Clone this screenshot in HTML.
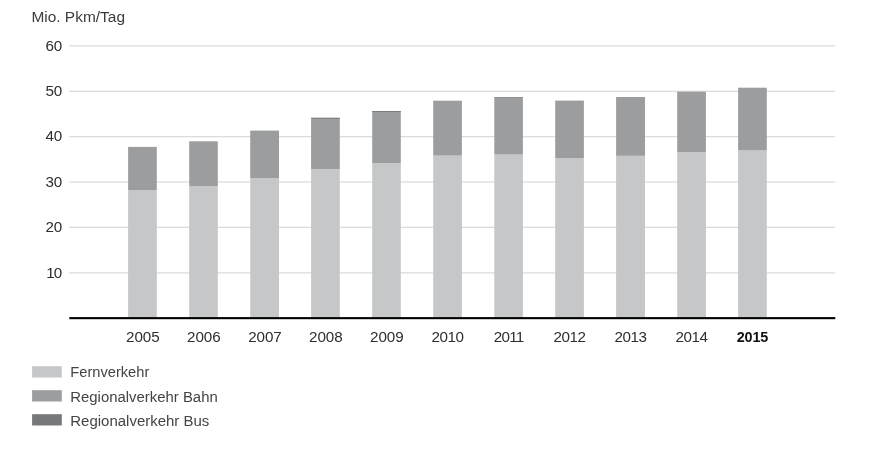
<!DOCTYPE html>
<html lang="de"><head><meta charset="utf-8"><title>Mio. Pkm/Tag</title>
<style>
html,body{margin:0;padding:0;background:#fff;}
body{width:873px;height:466px;overflow:hidden;}
svg{display:block;}
text{font-family:"Liberation Sans",sans-serif;font-size:14.6px;fill:#3c3c3c;}
.n{font-size:15.2px;letter-spacing:-0.1px;fill:#2e2e2e;}
.b{font-weight:bold;fill:#111;font-size:14.4px;letter-spacing:-0.15px;}
</style></head><body>
<svg width="873" height="466" viewBox="0 0 873 466">
<rect width="873" height="466" fill="#fff"/>
<text x="31.4" y="22.4" style="font-size:14px" textLength="93.6" lengthAdjust="spacingAndGlyphs">Mio. Pkm/Tag</text>
<rect x="69.3" y="45.3" width="766" height="1.2" fill="#d9d9d9"/>
<text class="n" x="62.2" y="50.5" text-anchor="end">60</text>
<rect x="69.3" y="90.7" width="766" height="1.2" fill="#d9d9d9"/>
<text class="n" x="62.2" y="95.9" text-anchor="end">50</text>
<rect x="69.3" y="136.1" width="766" height="1.2" fill="#d9d9d9"/>
<text class="n" x="62.2" y="141.3" text-anchor="end">40</text>
<rect x="69.3" y="181.4" width="766" height="1.2" fill="#d9d9d9"/>
<text class="n" x="62.2" y="186.6" text-anchor="end">30</text>
<rect x="69.3" y="226.7" width="766" height="1.2" fill="#d9d9d9"/>
<text class="n" x="62.2" y="231.9" text-anchor="end">20</text>
<rect x="69.3" y="272.3" width="766" height="1.2" fill="#d9d9d9"/>
<text class="n" x="61.3" y="277.5" text-anchor="end" style="letter-spacing:-0.9px">10</text>
<rect x="128.1" y="190.0" width="28.7" height="127.5" fill="#c6c7c8"/>
<rect x="128.1" y="146.9" width="28.7" height="43.1" fill="#9c9d9f"/>
<text x="142.8" y="341.5" text-anchor="middle" class="n">2005</text>
<rect x="189.2" y="186.1" width="28.6" height="131.4" fill="#c6c7c8"/>
<rect x="189.2" y="141.3" width="28.6" height="44.8" fill="#9c9d9f"/>
<text x="203.8" y="341.5" text-anchor="middle" class="n">2006</text>
<rect x="250.2" y="178.0" width="28.8" height="139.5" fill="#c6c7c8"/>
<rect x="250.2" y="130.6" width="28.8" height="47.4" fill="#9c9d9f"/>
<text x="264.9" y="341.5" text-anchor="middle" class="n">2007</text>
<rect x="311.1" y="169.0" width="28.7" height="148.5" fill="#c6c7c8"/>
<rect x="311.1" y="117.8" width="28.7" height="51.2" fill="#9c9d9f"/>
<rect x="311.1" y="117.8" width="28.7" height="0.9" fill="#77787a"/>
<text x="325.8" y="341.5" text-anchor="middle" class="n">2008</text>
<rect x="372.2" y="163.2" width="28.6" height="154.3" fill="#c6c7c8"/>
<rect x="372.2" y="111.0" width="28.6" height="52.2" fill="#9c9d9f"/>
<rect x="372.2" y="111.0" width="28.6" height="0.9" fill="#77787a"/>
<text x="386.8" y="341.5" text-anchor="middle" class="n">2009</text>
<rect x="433.2" y="155.6" width="28.7" height="161.9" fill="#c6c7c8"/>
<rect x="433.2" y="100.7" width="28.7" height="54.9" fill="#9c9d9f"/>
<text x="447.5" y="341.5" text-anchor="middle" class="n" style="letter-spacing:-0.45px">2010</text>
<rect x="494.3" y="154.5" width="28.6" height="163.0" fill="#c6c7c8"/>
<rect x="494.3" y="97.0" width="28.6" height="57.5" fill="#9c9d9f"/>
<rect x="494.3" y="97.0" width="28.6" height="0.4" fill="#77787a"/>
<text x="508.6" y="341.5" text-anchor="middle" class="n" style="letter-spacing:-0.8px">2011</text>
<rect x="555.2" y="158.1" width="28.7" height="159.4" fill="#c6c7c8"/>
<rect x="555.2" y="100.6" width="28.7" height="57.5" fill="#9c9d9f"/>
<text x="569.5" y="341.5" text-anchor="middle" class="n" style="letter-spacing:-0.45px">2012</text>
<rect x="616.1" y="155.8" width="28.9" height="161.7" fill="#c6c7c8"/>
<rect x="616.1" y="97.0" width="28.9" height="58.8" fill="#9c9d9f"/>
<text x="630.5" y="341.5" text-anchor="middle" class="n" style="letter-spacing:-0.45px">2013</text>
<rect x="677.2" y="152.2" width="28.7" height="165.3" fill="#c6c7c8"/>
<rect x="677.2" y="91.7" width="28.7" height="60.5" fill="#9c9d9f"/>
<text x="691.5" y="341.5" text-anchor="middle" class="n" style="letter-spacing:-0.45px">2014</text>
<rect x="738.1" y="150.4" width="28.7" height="167.1" fill="#c6c7c8"/>
<rect x="738.1" y="87.7" width="28.7" height="62.7" fill="#9c9d9f"/>
<text x="752.4" y="341.5" text-anchor="middle" class="n b">2015</text>
<rect x="69.3" y="317.1" width="766" height="2.1" fill="#000"/>
<rect x="32.1" y="366.2" width="29.7" height="11.3" fill="#c6c7c8"/>
<text x="70.3" y="377.3" style="font-size:14.9px;fill:#444" textLength="79.0" lengthAdjust="spacingAndGlyphs">Fernverkehr</text>
<rect x="32.1" y="390.2" width="29.7" height="11.3" fill="#9c9d9f"/>
<text x="70.3" y="401.9" style="font-size:14.9px;fill:#444" textLength="147.4" lengthAdjust="spacingAndGlyphs">Regionalverkehr Bahn</text>
<rect x="32.1" y="414.2" width="29.7" height="11.3" fill="#77787a"/>
<text x="70.3" y="425.8" style="font-size:14.9px;fill:#444" textLength="139.0" lengthAdjust="spacingAndGlyphs">Regionalverkehr Bus</text>
</svg></body></html>
